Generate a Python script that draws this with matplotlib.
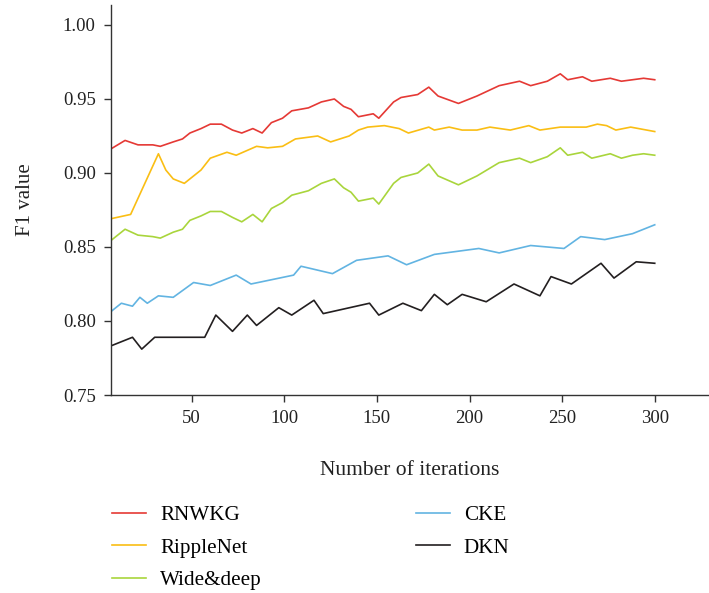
"""F1 value vs. number of iterations for the five recommenders."""

import matplotlib

matplotlib.use("Agg")
import matplotlib.pyplot as plt

plt.rcParams["font.family"] = ["Liberation Serif", "DejaVu Serif"]

# RNWKG and Wide&deep were evaluated at the same checkpoints
iters_rnwkg = [6, 14, 21, 29, 33, 40, 45, 49, 55, 60, 66, 72, 77, 83, 88, 93, 99, 104, 113, 120,
               127, 132, 136, 140, 148, 151, 159, 163, 172, 178, 183, 194, 204, 216, 227, 233,
               242, 249, 253, 261, 266, 276, 282, 288, 294, 300]
f1_rnwkg = [0.916, 0.922, 0.919, 0.919, 0.918, 0.921, 0.923, 0.927, 0.930, 0.933, 0.933, 0.929,
            0.927, 0.930, 0.927, 0.934, 0.937, 0.942, 0.944, 0.948, 0.950, 0.945, 0.943, 0.938,
            0.940, 0.937, 0.948, 0.951, 0.953, 0.958, 0.952, 0.947, 0.952, 0.959, 0.962, 0.959,
            0.962, 0.967, 0.963, 0.965, 0.962, 0.964, 0.962, 0.963, 0.964, 0.963]
f1_widedeep = [0.854, 0.862, 0.858, 0.857, 0.856, 0.860, 0.862, 0.868, 0.871, 0.874, 0.874, 0.870,
               0.867, 0.872, 0.867, 0.876, 0.880, 0.885, 0.888, 0.893, 0.896, 0.890, 0.887, 0.881,
               0.883, 0.879, 0.893, 0.897, 0.900, 0.906, 0.898, 0.892, 0.898, 0.907, 0.910, 0.907,
               0.911, 0.917, 0.912, 0.914, 0.910, 0.913, 0.910, 0.912, 0.913, 0.912]

iters_ripple = [6, 17, 32, 36, 40, 46, 55, 60, 69, 74, 85, 91, 99, 106, 118, 125, 135, 140, 145,
                154, 162, 167, 178, 181, 189, 196, 204, 211, 222, 232, 238, 249, 263, 269, 274,
                279, 287, 300]
f1_ripple = [0.869, 0.872, 0.913, 0.902, 0.896, 0.893, 0.902, 0.910, 0.914, 0.912, 0.918, 0.917,
             0.918, 0.923, 0.925, 0.921, 0.925, 0.929, 0.931, 0.932, 0.930, 0.927, 0.931, 0.929,
             0.931, 0.929, 0.929, 0.931, 0.929, 0.932, 0.929, 0.931, 0.931, 0.933, 0.932, 0.929,
             0.931, 0.928]

iters_cke = [6, 12, 18, 22, 26, 32, 40, 51, 60, 74, 82, 105, 109, 126, 139, 156, 166, 181, 205,
             216, 233, 251, 260, 273, 288, 300]
f1_cke = [0.806, 0.812, 0.810, 0.816, 0.812, 0.817, 0.816, 0.826, 0.824, 0.831, 0.825, 0.831,
          0.837, 0.832, 0.841, 0.844, 0.838, 0.845, 0.849, 0.846, 0.851, 0.849, 0.857, 0.855,
          0.859, 0.865]

iters_dkn = [6, 18, 23, 30, 57, 63, 72, 80, 85, 97, 104, 116, 121, 146, 151, 164, 174, 181, 188,
             196, 209, 224, 238, 244, 255, 271, 278, 290, 300]
f1_dkn = [0.783, 0.789, 0.781, 0.789, 0.789, 0.804, 0.793, 0.804, 0.797, 0.809, 0.804, 0.814,
          0.805, 0.812, 0.804, 0.812, 0.807, 0.818, 0.811, 0.818, 0.813, 0.825, 0.817, 0.830,
          0.825, 0.839, 0.829, 0.840, 0.839]

y_ticks = [0.75, 0.80, 0.85, 0.90, 0.95, 1.00]
x_ticks = [50, 100, 150, 200, 250, 300]

series = [
    ("RNWKG", iters_rnwkg, f1_rnwkg, "#E53935"),
    ("RippleNet", iters_ripple, f1_ripple, "#FABE14"),
    ("Wide&deep", iters_rnwkg, f1_widedeep, "#A9D53C"),
    ("CKE", iters_cke, f1_cke, "#62B4E2"),
    ("DKN", iters_dkn, f1_dkn, "#231F20"),
]

fig = plt.figure(figsize=(7.09, 5.93), dpi=100)
ax = fig.add_axes([111 / 709, 198 / 593, 598 / 709, 390 / 593])

for label, xs, ys, color in series:
    ax.plot(xs, ys, color=color, lw=1.2, label=label)

ax.set_xlim(6.4, 329.3)
ax.set_ylim(0.75, 1.0135)
ax.set_xticks(x_ticks)
ax.set_yticks(y_ticks)
ax.set_yticklabels([f"{v:.2f}" for v in y_ticks])

for side in ("top", "right"):
    ax.spines[side].set_visible(False)
for side in ("left", "bottom"):
    ax.spines[side].set_color("#333333")
    ax.spines[side].set_linewidth(1.0)
ax.tick_params(direction="out", length=5, width=1.0, color="#333333",
               labelsize=13.5, pad=6, labelcolor="#222222")

ax.set_xlabel("Number of iterations", fontsize=15.5, color="#222222", labelpad=24)
ax.set_ylabel("F1 value", fontsize=15, color="#222222", labelpad=20)

fig.legend(loc="upper left", bbox_to_anchor=(104 / 709, 1 - 497 / 593), ncol=2,
           frameon=False, fontsize=15.2, handlelength=1.6, handletextpad=0.66,
           columnspacing=7.3, labelspacing=0.6, borderaxespad=0)

fig.savefig("out.png", dpi=100)
plt.close(fig)
